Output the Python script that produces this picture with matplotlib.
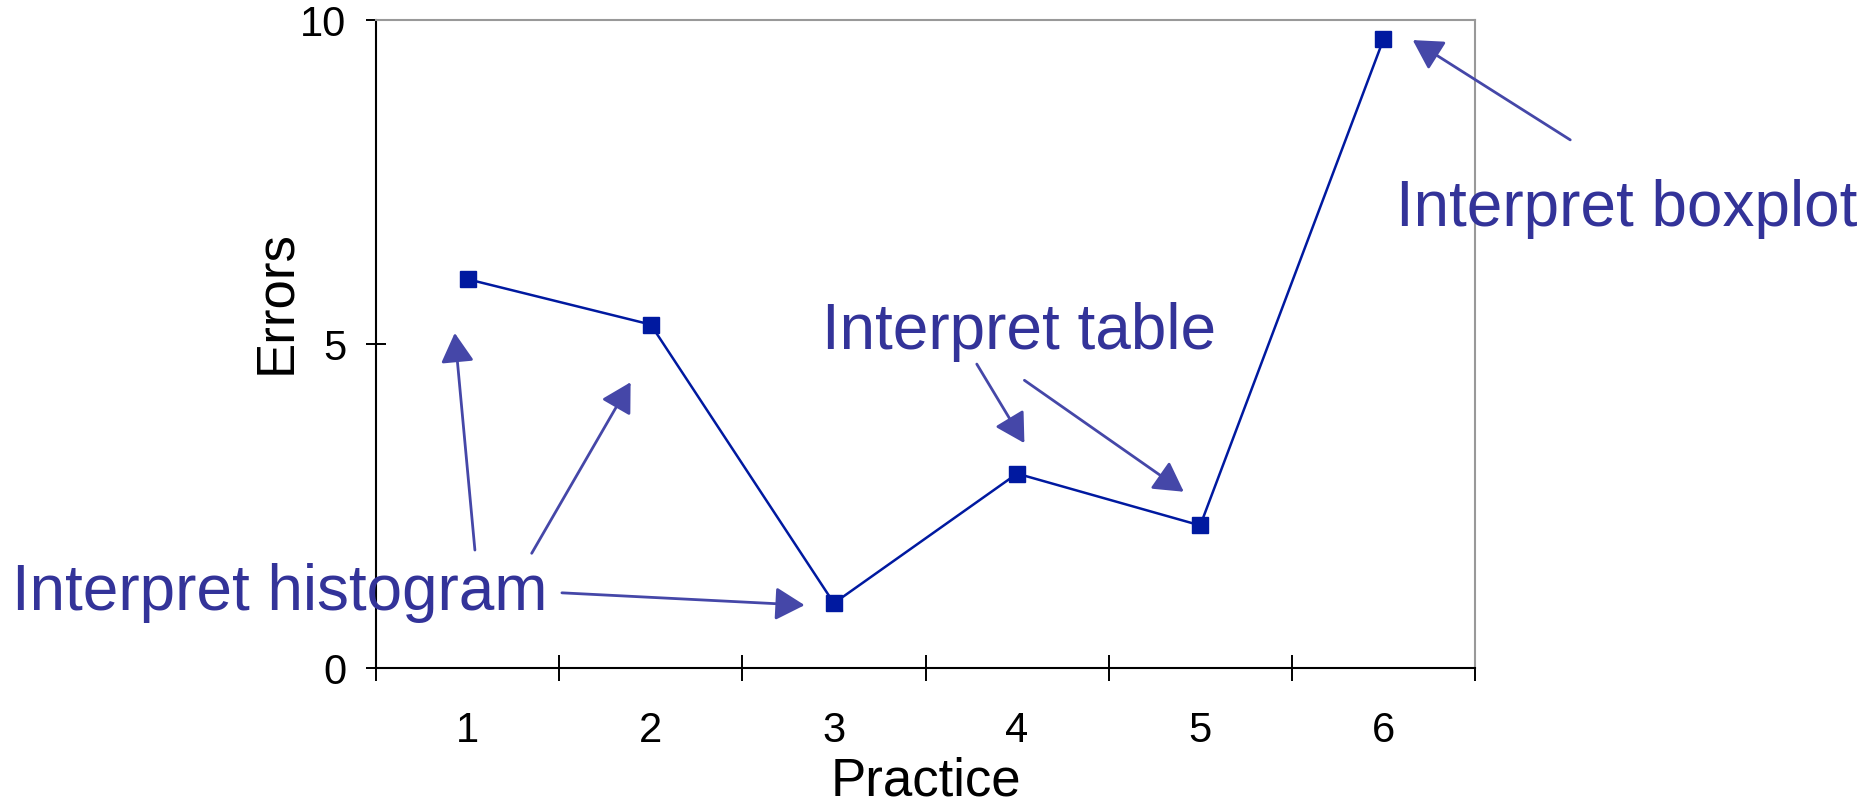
import matplotlib
matplotlib.use("Agg")
import matplotlib.pyplot as plt

# Errors made in each practice session
practice = [1, 2, 3, 4, 5, 6]
errors = [6.0, 5.3, 1.0, 3.0, 2.2, 9.7]
y_ticks = [0, 5, 10]

# Callouts: label text, label anchor (left, baseline) and arrows (tail -> tip), in data units
callouts = [
    ("Interpret histogram", (-1.487, 0.90),
     [((1.04, 1.82), (0.93, 5.17)),
      ((1.35, 1.77), (1.89, 4.41)),
      ((1.515, 1.16), (2.84, 0.97))]),
    ("Interpret table", (2.934, 4.92),
     [((3.78, 4.69), (4.04, 3.47)),
      ((4.04, 4.44), (4.91, 2.72))]),
    ("Interpret boxplot", (6.068, 6.82),
     [((7.02, 8.15), (6.16, 9.69))]),
]

plt.rcParams['font.family'] = ['Liberation Sans', 'DejaVu Sans']

fig = plt.figure(figsize=(18.68, 8.06), dpi=100)
ax = fig.add_axes([376 / 1868, 138 / 806, 1099 / 1868, 648 / 806])

line_color = "#0019A0"
ax.plot(practice, errors, color=line_color, linewidth=1.8,
        marker="s", markersize=12, markerfacecolor=line_color,
        markeredgecolor=line_color, zorder=3)

ax.set_xlim(0.5, 6.5)
ax.set_ylim(0, 10)

# category labels centred between boundary ticks
ax.set_xticks(practice)
ax.set_xticklabels([str(p) for p in practice])
ax.set_xticks([p - 0.5 for p in practice] + [practice[-1] + 0.5], minor=True)
ax.tick_params(axis="x", which="major", length=0, pad=31, labelsize=30)
ax.tick_params(axis="x", which="minor", direction="inout", length=19, width=1.4)

ax.set_yticks(y_ticks)
ax.set_yticklabels([str(v) for v in y_ticks])
ax.tick_params(axis="y", direction="inout", length=15, width=1.4,
               pad=14, labelsize=30)

for side in ("left", "bottom"):
    ax.spines[side].set_color("black")
    ax.spines[side].set_linewidth(1.5)
for side in ("top", "right"):
    ax.spines[side].set_color("#999999")
    ax.spines[side].set_linewidth(1.5)

# axis titles placed by baseline / centre
ax.set_xlabel("Practice", fontsize=38, va="baseline")
ax.xaxis.set_label_coords(0.5, -127 / 648)
fig.text(276 / 1868, 1 - 302 / 806, "Errors", rotation=90, fontsize=38,
         ha="center", va="center")

text_color = "#333399"
arrow_color = "#4547A8"
for label, (tx, ty), arrows in callouts:
    ax.text(tx, ty, label, fontsize=46, color=text_color, ha="left",
            va="baseline", clip_on=False, zorder=4)
    for tail, tip in arrows:
        ax.annotate("", xy=tip, xytext=tail, annotation_clip=False,
                    arrowprops=dict(arrowstyle="-|>,head_length=0.6,head_width=0.34",
                                    mutation_scale=30, color=arrow_color,
                                    linewidth=2, shrinkA=0, shrinkB=0),
                    zorder=4)

fig.savefig("out.png", dpi=100)
